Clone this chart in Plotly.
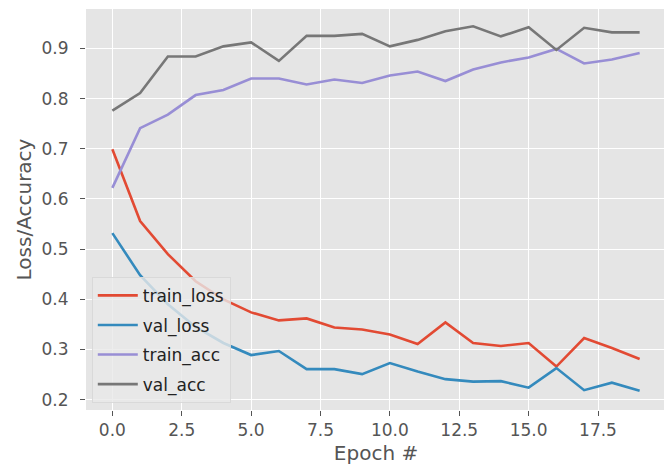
import plotly.graph_objects as go

epochs = list(range(20))
train_loss = [0.699, 0.556, 0.49, 0.436, 0.40, 0.374, 0.358, 0.362, 0.344, 0.340,
              0.330, 0.311, 0.354, 0.313, 0.307, 0.313, 0.266, 0.323, 0.303, 0.281]
val_loss = [0.532, 0.448, 0.39, 0.345, 0.313, 0.289, 0.297, 0.261, 0.261, 0.251,
            0.273, 0.256, 0.241, 0.236, 0.237, 0.224, 0.263, 0.219, 0.234, 0.218]
train_acc = [0.622, 0.741, 0.768, 0.807, 0.817, 0.840, 0.840, 0.828, 0.838, 0.831,
             0.846, 0.854, 0.835, 0.858, 0.872, 0.882, 0.899, 0.870, 0.878, 0.891]
val_acc = [0.776, 0.811, 0.884, 0.884, 0.904, 0.912, 0.875, 0.925, 0.925, 0.929,
           0.904, 0.917, 0.934, 0.944, 0.924, 0.942, 0.897, 0.941, 0.932, 0.932]

series_names = ["train_loss", "val_loss", "train_acc", "val_acc"]
series_values = [train_loss, val_loss, train_acc, val_acc]
colors = ["#E24A33", "#348ABD", "#988ED5", "#777777"]

x_ticks = [0.0, 2.5, 5.0, 7.5, 10.0, 12.5, 15.0, 17.5]
y_ticks = [0.2, 0.3, 0.4, 0.5, 0.6, 0.7, 0.8, 0.9]

fig = go.Figure()
for name, vals, c in zip(series_names, series_values, colors):
    fig.add_trace(go.Scatter(x=epochs, y=vals, mode="lines", name=name,
                             legendgroup=name,
                             line=dict(color=c, width=2.6)))

axis_common = dict(
    showgrid=True, gridcolor="white", gridwidth=1.3,
    zeroline=False, showline=False, automargin=False,
    ticks="outside", ticklen=5, tickwidth=1.2, tickcolor="#555555",
    tickfont=dict(size=17, color="#555555", family="DejaVu Sans"),
    tickformat=".1f",
)

# The page body has an 8px default margin, so the figure is sized and
# its margins reduced to land the plot area where the reference has it.
fig.update_layout(
    width=664, height=457,
    margin=dict(l=78, r=6, t=1, b=55),
    paper_bgcolor="white", plot_bgcolor="#E5E5E5",
    font=dict(family="DejaVu Sans", color="#555555"),
    xaxis=dict(range=[-0.95, 19.95], tickvals=x_ticks, ticklabelstandoff=0,
               title=dict(text="Epoch #", font=dict(size=20, color="#555555"), standoff=7),
               **axis_common),
    yaxis=dict(range=[0.1795, 0.9785], tickvals=y_ticks, ticklabelstandoff=8,
               title=dict(text="Loss/Accuracy", font=dict(size=20, color="#555555"), standoff=4),
               **axis_common),
    legend=dict(x=0.01, y=0.018, xanchor="left", yanchor="bottom",
                bgcolor="rgba(232,232,232,0.8)", bordercolor="rgba(215,215,215,0.9)",
                borderwidth=1, font=dict(size=17, color="#222222", family="DejaVu Sans"),
                tracegroupgap=4.5, itemwidth=40),
    showlegend=True,
)

fig.write_html("out.html")
